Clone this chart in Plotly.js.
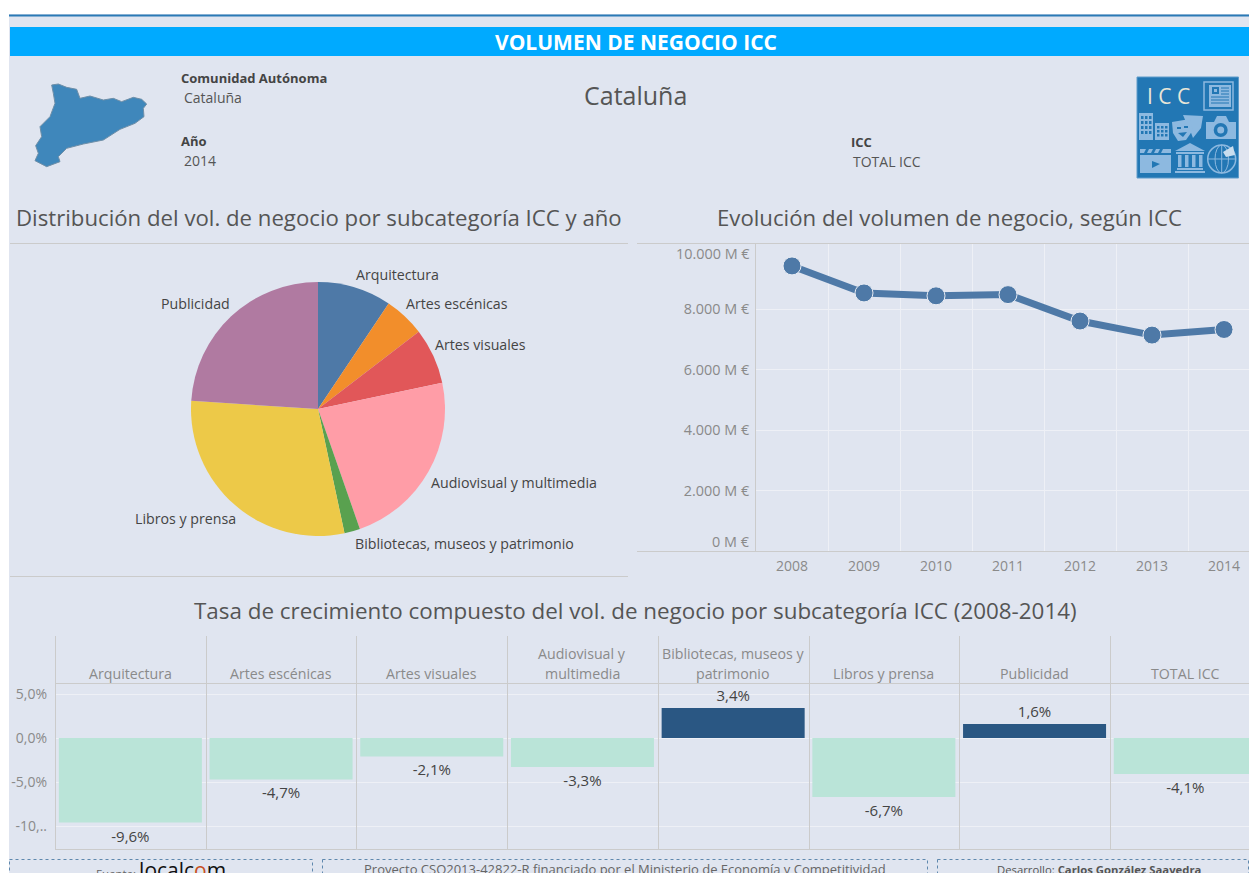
<!DOCTYPE html>
<html><head><meta charset="utf-8">
<script src="https://cdn.plot.ly/plotly-3.0.1.min.js"></script>
<style>html,body{margin:0;padding:0;background:#fff;overflow:hidden}#g{width:1249px;height:873px}</style>
</head><body><div id="g"></div>
<script>
// ---- data ----
const pieCategories = ['Arquitectura','Artes escénicas','Artes visuales','Audiovisual y multimedia','Bibliotecas, museos y patrimonio','Libros y prensa','Publicidad'];
const pieValues = [9.4,5.2,7.1,23.0,2.0,29.4,24.0];
const pieColors = ['#4E79A7','#F28E2B','#E15759','#FF9DA7','#59A14F','#EDC948','#B07AA1'];
const years = [2008,2009,2010,2011,2012,2013,2014];
const volume = [9440,8545,8450,8490,7615,7150,7335];
const yearSeparators = [2008.5,2009.5,2010.5,2011.5,2012.5,2013.5];
const volTicks = [2000,4000,6000,8000];
const volTickText = ['2.000 M €','4.000 M €','6.000 M €','8.000 M €'];
const rateKeys = ['Arquitectura','Artes escénicas','Artes visuales','Audiovisual y<br>multimedia','Bibliotecas, museos y<br>patrimonio','Libros y prensa','Publicidad','TOTAL ICC'];
const rateValues = [-9.6,-4.7,-2.1,-3.3,3.4,-6.7,1.6,-4.1];
const rateText = ['-9,6%','-4,7%','-2,1%','-3,3%','3,4%','-6,7%','1,6%','-4,1%'];
const rateTicks = [-10,-5,0,5];
const rateTickText = ['-10,..','-5,0%','0,0%','5,0%'];

// ---- helpers (page layout in pixels -> paper fractions) ----
const W=1249,H=873;
const BG='#E0E5F0', GRID='#EEF0F6', RULE='#CBCBCB', FONT='"Open Sans", sans-serif';
const fx=x=>x/W, fy=y=>1-y/H;
const shapes=[], ann=[];
function rect(x0,y0,x1,y1,fill,line,dash,lw){shapes.push({type:'rect',xref:'paper',yref:'paper',x0:fx(x0),x1:fx(x1),y0:fy(y0),y1:fy(y1),fillcolor:fill||'rgba(0,0,0,0)',line:{color:line||'rgba(0,0,0,0)',width:line?(lw||1):0,dash:dash||'solid'},layer:'below'});}
function hline(x0,x1,y,c,w){shapes.push({type:'line',xref:'paper',yref:'paper',x0:fx(x0),x1:fx(x1),y0:fy(y),y1:fy(y),line:{color:c||RULE,width:w||1},layer:'above'});}
function poly(pts,fill,line,lw,closed){const d=pts.map((p,i)=>(i?'L':'M')+fx(p[0]).toFixed(5)+','+fy(p[1]).toFixed(5)).join(' ')+(closed===false?'':' Z');
 shapes.push({type:'path',xref:'paper',yref:'paper',path:d,fillcolor:fill||'rgba(0,0,0,0)',line:{color:line||'rgba(0,0,0,0)',width:line?(lw||1):0},layer:'above'});}
function circ(cx,cy,r,fill,line,lw){shapes.push({type:'circle',xref:'paper',yref:'paper',x0:fx(cx-r),x1:fx(cx+r),y0:fy(cy+r),y1:fy(cy-r),fillcolor:fill||'rgba(0,0,0,0)',line:{color:line||'rgba(0,0,0,0)',width:line?(lw||1):0},layer:'above'});}
function box(x0,y0,x1,y1,fill,line,lw){shapes.push({type:'rect',xref:'paper',yref:'paper',x0:fx(x0),x1:fx(x1),y0:fy(y0),y1:fy(y1),fillcolor:fill||'rgba(0,0,0,0)',line:{color:line||'rgba(0,0,0,0)',width:line?(lw||1):0},layer:'above'});}
function txt(x,y,t,size,color,anchor){ann.push({xref:'paper',yref:'paper',x:fx(x),y:fy(y),text:t,showarrow:false,xanchor:anchor||'center',yanchor:'middle',align:anchor==='left'?'left':(anchor==='right'?'right':'center'),font:{family:FONT,size:size,color:color},borderpad:0,borderwidth:0});}

// ---- page furniture ----
rect(9,14,1249,873,BG);
hline(9,1249,15.5,'#2A7AB5',2);
rect(10,27,1249,56,'#00AAFF');
txt(636,42,'<b>VOLUMEN DE NEGOCIO ICC</b>',21,'#FFFFFF');
txt(181,78,'<b>Comunidad Autónoma</b>',13,'#444','left');
txt(184,97.5,'Cataluña',14,'#555','left');
txt(181,141,'<b>Año</b>',13,'#444','left');
txt(184,160.5,'2014',14,'#555','left');
txt(851,142,'<b>ICC</b>',13,'#444','left');
txt(853,161.5,'TOTAL ICC',14,'#555','left');
txt(635,95,'Cataluña',25,'#555');
txt(319,217.5,'Distribución del vol. de negocio por subcategoría ICC y año',22.2,'#555');
txt(949,217.5,'Evolución del volumen de negocio, según ICC',22.2,'#555');
txt(635,610,'Tasa de crecimiento compuesto del vol. de negocio por subcategoría ICC (2008-2014)',22.4,'#555');
hline(10,628,243.5); hline(10,628,576.5);
hline(637,1249,243.5); hline(637,1249,551.5);

// ---- Catalonia silhouette ----
poly([[155,255],[175,252],[200,262],[230,268],[240,295],[270,288],[310,300],[340,295],[365,305],[400,292],[425,298],[440,312],[430,325],[432,350],[405,370],[360,388],[310,420],[250,432],[200,445],[175,470],[180,485],[140,500],[105,482],[115,460],[107,437],[125,410],[120,380],[150,350],[165,310],[160,280]].map(p=>[p[0]/3,p[1]/3]),'#3F87BB','#6F8FA8',1);

// ---- ICC logo ----
const L='#8DB9E0', B='#2277B4';
box(1137,77,1238.5,178,B,'#5E9CCB',1);
txt(1168,96,'I C C',21,'#E8E6D8');
box(1204,82,1233,110,null,L,1.5); box(1209,85,1231,107,L); box(1212,87,1219,94,B); box(1214,89,1217,92,L);
[97,100,103].forEach(y=>hline(1211,1229,y,B,1)); [88,91,94].forEach(y=>hline(1221,1229,y,B,1));
box(1139,113,1153,140,L); box(1155,123,1169,140,L);
[1141,1145,1149].forEach(x=>[116,121,126,131].forEach(y=>box(x,y,x+2.5,y+3,B)));
[1157,1161,1165].forEach(x=>[126,130,134].forEach(y=>box(x,y,x+2.5,y+2.5,B)));
poly([[1183,115],[1203,116],[1201,128],[1193,138],[1190,130],[1186,122]],L);
poly([[1172,122],[1190,119],[1193,130],[1186,140],[1178,141],[1173,133]],L);
box(1177,127,1181,129,B); box(1184,126,1188,128,B);
poly([[1178,133],[1187,132],[1183,137]],B);
box(1206,122,1236,139,L); poly([[1214,122],[1217,116],[1226,116],[1229,122]],L);
circ(1220.7,130,7,B); circ(1220.7,130,3.5,L);
box(1140,155,1171,173,L); poly([[1140,149],[1171,149],[1171,153],[1140,153]],L);
[1146,1153,1160].forEach(x=>poly([[x,149],[x+3,149],[x+1,153],[x-2,153]],B));
poly([[1152,161],[1160,164],[1152,168]],B);
poly([[1190,143],[1175,151],[1205,151]],L); box(1176,152,1204,154,L);
[1178,1185,1192,1199].forEach(x=>box(x,155,x+3.5,167,L));
box(1177,168,1203,170,L); box(1175,171,1205,173,L);
circ(1221.7,159,14,null,L,1.5); poly([[1221.7,145],[1221.7,173]],null,L,1,false); poly([[1208,159],[1235,159]],null,L,1,false);
shapes.push({type:'circle',xref:'paper',yref:'paper',x0:fx(1215),x1:fx(1228.5),y0:fy(173),y1:fy(145),line:{color:L,width:1},layer:'above'});
poly([[1223,152],[1233,146],[1235,155],[1226,157]],'#C9DDEE');

// ---- pie labels ----
const pieLabelPos=[[356,274.5,'left'],[406,303.5,'left'],[435,345,'left'],[431,482.5,'left'],[355,543.5,'left'],[236,518.5,'right'],[230,303.5,'right']];
pieCategories.forEach((c,i)=>txt(pieLabelPos[i][0],pieLabelPos[i][1],c,14.2,'#444',pieLabelPos[i][2]));

// ---- volume axis end labels (Tableau keeps them inside the pane) ----
txt(750,253,'10.000 M €',14.4,'#8A8A8A','right');
txt(750,541,'0 M €',14.4,'#8A8A8A','right');

// ---- bar panel headers and rules ----
rateKeys.forEach((k,i)=>{const lines=k.split('<br>');
 lines.forEach((t,j)=>ann.push({xref:'x2',yref:'paper',x:i,y:fy(673-20*(lines.length-1-j)),text:t,showarrow:false,xanchor:'center',yanchor:'middle',align:'center',font:{family:FONT,size:14.2,color:'#8A8A8A'}}));});
const panelStep=150.7;
for(let i=0;i<rateKeys.length;i++){const px=Math.round(55+panelStep*i)+0.5;shapes.push({type:'line',xref:'paper',yref:'paper',x0:fx(px),x1:fx(px),y0:fy(849),y1:fy(636),line:{color:RULE,width:1},layer:'above'});}
hline(55,1249,683.5); hline(55,1249,849.5);

// ---- footer ----
rect(9.5,859.5,312.5,880,null,'#5F88AE','dot');
rect(322.5,859.5,927.5,880,null,'#5F88AE','dot');
rect(937.5,859.5,1248.5,880,null,'#5F88AE','dot');
ann.push({xref:'paper',yref:'paper',x:fx(161),y:fy(870),text:'<span style="font-size:11.5px;color:#666">Fuente: </span>localc<span style="color:#C8501E">o</span>m',showarrow:false,font:{family:FONT,size:21,color:'#111'},xanchor:'center',yanchor:'middle'});
txt(625,869,'Proyecto CSO2013-42822-R financiado por el Ministerio de Economía y Competitividad',13,'#666');
txt(1099,869,'Desarrollo: <b>Carlos González Saavedra</b>',11.3,'#555');

// ---- traces ----
const pie={type:'pie',labels:pieCategories,values:pieValues,sort:false,direction:'clockwise',rotation:0,
 marker:{colors:pieColors,line:{width:0}},textinfo:'none',hoverinfo:'label+percent',showlegend:false,
 domain:{x:[fx(191),fx(445)],y:[fy(536),fy(282)]}};
const line={type:'scatter',mode:'lines+markers',x:years,y:volume,xaxis:'x',yaxis:'y',
 line:{color:'#4E79A7',width:7},marker:{color:'#4E79A7',size:18,line:{color:'#E8ECF4',width:1}},showlegend:false,cliponaxis:false};
const bars={type:'bar',x:rateKeys.map((k,i)=>i),y:rateValues,xaxis:'x2',yaxis:'y2',width:0.949,
 marker:{color:rateValues.map(v=>v<0?'#BAE4D8':'#2A5783'),line:{width:0}},text:rateText,textposition:'outside',cliponaxis:false,
 textfont:{family:FONT,size:15,color:'#444'},showlegend:false};

const tickFont={family:FONT,size:14,color:'#8A8A8A'};
const layout={width:W,height:H,margin:{l:0,r:0,t:0,b:0},paper_bgcolor:'#FFFFFF',plot_bgcolor:'rgba(0,0,0,0)',showlegend:false,font:{family:FONT},
 shapes:shapes,annotations:ann,
 xaxis:{domain:[fx(756),1],range:[2007.5,2014.347],anchor:'y',tickmode:'array',tickvals:years,ticktext:years.map(String),tickfont:tickFont,showgrid:false,zeroline:false,showline:false,ticks:'',ticklabelstandoff:5,
  minor:{tickmode:'array',tickvals:yearSeparators,showgrid:true,gridcolor:GRID,gridwidth:1,ticks:''}},
 yaxis:{domain:[fy(551),fy(243)],range:[0,10199],anchor:'x',tickmode:'array',tickvals:volTicks,ticktext:volTickText,tickfont:{family:FONT,size:14.4,color:'#8A8A8A'},showgrid:true,gridcolor:GRID,gridwidth:1,zeroline:false,showline:true,linecolor:RULE,linewidth:1,ticks:'',ticklabelstandoff:3},
 xaxis2:{domain:[fx(55),1],range:[-0.5,7.423],anchor:'y2',showticklabels:false,showgrid:false,zeroline:false,ticks:'',tickvals:[]},
 yaxis2:{domain:[fy(849),fy(683)],range:[-12.61,6.25],anchor:'x2',tickmode:'array',tickvals:rateTicks,ticktext:rateTickText,tickfont:tickFont,showgrid:true,gridcolor:GRID,gridwidth:1,zeroline:false,showline:false,ticks:'',ticklabelstandoff:7}
};
Plotly.newPlot('g',[pie,line,bars],layout,{displayModeBar:false,staticPlot:true});
</script></body></html>
